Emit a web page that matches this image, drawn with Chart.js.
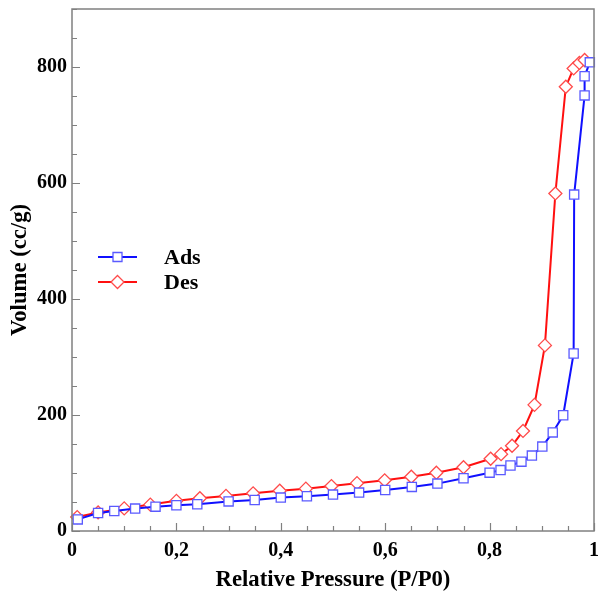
<!DOCTYPE html>
<html>
<head>
<meta charset="utf-8">
<script src="https://cdn.jsdelivr.net/npm/chart.js@4"></script>
<style>
  html, body { margin: 0; padding: 0; background: #fff; }
  #wrap { width: 598px; height: 591px; }
</style>
</head>
<body>
<div id="wrap"><canvas id="isotherm" width="598" height="591"></canvas></div>
<script>
// Adsorption branch (P/P0, volume cc/g)
const adsPressure = [0.011, 0.05, 0.081, 0.121, 0.16, 0.2, 0.24, 0.30, 0.35, 0.40, 0.45, 0.50, 0.55, 0.60, 0.651, 0.70,
    0.75, 0.80, 0.821, 0.84, 0.861, 0.881, 0.901, 0.921, 0.941, 0.961, 0.962, 0.982, 0.982, 0.992];
const adsVolume = [20, 31, 34.5, 38.6, 42, 44.3, 46, 51, 53.4, 57.6, 59.8, 62.8, 66.2, 70.7, 76, 81.7,
    91, 100.6, 105, 113, 119.6, 130, 145.5, 170, 199.5, 306, 580, 751, 784, 808];

// Desorption branch
const desPressure = [0.01, 0.05, 0.10, 0.15, 0.20, 0.245, 0.295, 0.347, 0.398, 0.448, 0.497, 0.546, 0.599, 0.65, 0.698,
    0.75, 0.802, 0.822, 0.843, 0.864, 0.886, 0.906, 0.926, 0.946, 0.961, 0.972, 0.982];
const desVolume = [24, 32, 39, 45.5, 52, 56.5, 60.5, 65, 69.5, 73, 77.5, 82.5, 87.4, 93.5, 100.5,
    110, 124.5, 132.5, 147, 172.5, 217.5, 320, 582, 766, 797.5, 807, 812];

const seriesNames = ['Ads', 'Des'];

const FONT = "'Liberation Serif', 'Times New Roman', serif";
const FRAME = '#808080';

function toPoints(xs, ys) {
    return xs.map((x, i) => ({ x: x, y: ys[i] }));
}

// frame + inward ticks (major and minor)
const frameTicks = {
    id: 'frameTicks',
    afterDraw(chart) {
        const { ctx, chartArea: a, scales: { x, y } } = chart;
        ctx.save();
        ctx.strokeStyle = FRAME;
        ctx.lineWidth = 1.5;
        ctx.strokeRect(a.left, a.top, a.right - a.left, a.bottom - a.top);

        ctx.lineWidth = 1.2;
        ctx.beginPath();
        for (let v = 0; v <= 1.0001; v += 0.05) {
            const px = Math.round(x.getPixelForValue(v)) + 0.5;
            const major = Math.abs(v / 0.2 - Math.round(v / 0.2)) < 1e-6;
            ctx.moveTo(px, a.bottom);
            ctx.lineTo(px, a.bottom - (major ? 8 : 5));
        }
        for (let v = 0; v <= 900; v += 50) {
            const py = Math.round(y.getPixelForValue(v)) + 0.5;
            const major = v % 200 === 0;
            ctx.moveTo(a.left, py);
            ctx.lineTo(a.left + (major ? 8 : 5), py);
        }
        ctx.stroke();
        ctx.restore();
    }
};

// legend with line + marker, placed inside the plot
const sideLegend = {
    id: 'sideLegend',
    afterDraw(chart) {
        const ctx = chart.ctx;
        const rows = [
            { label: seriesNames[0], line: '#1010ff', edge: '#5a5aff', shape: 'square', y: 257 },
            { label: seriesNames[1], line: '#ff1010', edge: '#ff4a4a', shape: 'diamond', y: 282 }
        ];
        ctx.save();
        rows.forEach(r => {
            ctx.strokeStyle = r.line;
            ctx.lineWidth = 2;
            ctx.beginPath();
            ctx.moveTo(98, r.y);
            ctx.lineTo(137, r.y);
            ctx.stroke();

            ctx.fillStyle = '#fff';
            ctx.strokeStyle = r.edge;
            ctx.lineWidth = 1.3;
            ctx.beginPath();
            if (r.shape === 'square') {
                ctx.rect(113, r.y - 4.5, 9, 9);
            } else {
                ctx.moveTo(117.5, r.y - 6.5);
                ctx.lineTo(124, r.y);
                ctx.lineTo(117.5, r.y + 6.5);
                ctx.lineTo(111, r.y);
                ctx.closePath();
            }
            ctx.fill();
            ctx.stroke();

            ctx.fillStyle = '#000';
            ctx.font = 'bold 22px ' + FONT;
            ctx.textBaseline = 'middle';
            ctx.fillText(r.label, 164, r.y + 1);
        });
        ctx.restore();
    }
};

const ctx = document.getElementById('isotherm').getContext('2d');
new Chart(ctx, {
    type: 'scatter',
    data: {
        datasets: [{
            label: seriesNames[0],
            data: toPoints(adsPressure, adsVolume),
            showLine: true,
            borderColor: '#1010ff',
            borderWidth: 2,
            pointStyle: 'rect',
            pointRadius: 6.5,
            pointBorderWidth: 1.3,
            pointBorderColor: '#5a5aff',
            pointBackgroundColor: '#ffffff',
            clip: false
        }, {
            label: seriesNames[1],
            data: toPoints(desPressure, desVolume),
            showLine: true,
            borderColor: '#ff1010',
            borderWidth: 2,
            pointStyle: 'rectRot',
            pointRadius: 6.5,
            pointBorderWidth: 1.3,
            pointBorderColor: '#ff4a4a',
            pointBackgroundColor: '#ffffff',
            clip: false
        }]
    },
    options: {
        responsive: false,
        animation: false,
        layout: { autoPadding: false, padding: { top: 9, right: 4, left: 0, bottom: 0 } },
        plugins: {
            legend: { display: false },
            tooltip: { enabled: false }
        },
        scales: {
            x: {
                type: 'linear',
                min: 0,
                max: 1,
                grid: { display: false, drawTicks: false },
                border: { display: false },
                afterFit: s => {
                    s.height = 60;
                    s.paddingLeft = 0;
                    s.paddingRight = 0;
                },
                ticks: {
                    stepSize: 0.2,
                    padding: 8,
                    color: '#000',
                    font: { family: FONT, size: 20, weight: 'bold' },
                    callback: v => (v === 0 || v === 1) ? String(v) : v.toFixed(1).replace('.', ',')
                },
                title: {
                    display: true,
                    text: 'Relative Pressure (P/P0)',
                    color: '#000',
                    padding: { top: 0, bottom: 0 },
                    font: { family: FONT, size: 22.7, weight: 'bold', lineHeight: 1 }
                }
            },
            y: {
                type: 'linear',
                min: 0,
                max: 900,
                grid: { display: false, drawTicks: false },
                border: { display: false },
                afterFit: s => {
                    s.width = 72;
                    s.paddingTop = 0;
                    s.paddingBottom = 0;
                },
                ticks: {
                    stepSize: 200,
                    includeBounds: false,
                    padding: 5,
                    color: '#000',
                    font: { family: FONT, size: 20, weight: 'bold' }
                },
                title: {
                    display: true,
                    text: 'Volume (cc/g)',
                    color: '#000',
                    padding: { top: 9, bottom: 0 },
                    font: { family: FONT, size: 22.7, weight: 'bold', lineHeight: 1 }
                }
            }
        }
    },
    plugins: [frameTicks, sideLegend]
});
</script>
</body>
</html>
